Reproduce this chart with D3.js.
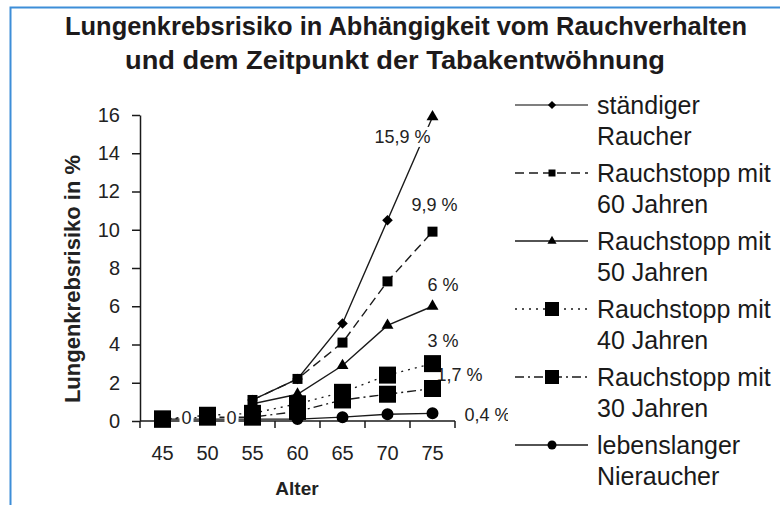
<!DOCTYPE html>
<html>
<head>
<meta charset="utf-8">
<script src="https://cdn.jsdelivr.net/npm/d3@7"></script>
<style>
  body { margin: 0; background: #fff; }
  svg { display: block; font-family: "Liberation Sans", Arial, sans-serif; }
</style>
</head>
<body>
<div id="chart"></div>
<script>
// Daten
const ages = [45, 50, 55, 60, 65, 70, 75];
const raucher = [null, null, 1.1, 2.2, 5.1, 10.5, 15.9];
const stopp60 = [null, null, 1.1, 2.2, 4.1, 7.3, 9.9];
const stopp50 = [null, null, 0.9, 1.4, 2.9, 5.0, 6.0];
const stopp40 = [0.1, 0.3, 0.4, 0.9, 1.5, 2.4, 3.0];
const stopp30 = [0.1, 0.2, 0.2, 0.5, 1.1, 1.4, 1.7];
const nie = [0.1, 0.1, 0.1, 0.1, 0.2, 0.35, 0.4];
const yTicks = [0, 2, 4, 6, 8, 10, 12, 14, 16];
const legendLabels = [
    ["ständiger", "Raucher"],
    ["Rauchstopp mit", "60 Jahren"],
    ["Rauchstopp mit", "50 Jahren"],
    ["Rauchstopp mit", "40 Jahren"],
    ["Rauchstopp mit", "30 Jahren"],
    ["lebenslanger", "Nieraucher"]
];
// Beschriftungen je Reihe: [Index der Altersgruppe, Text]
const pointLabels = [
    [[6, "15,9 %"]],
    [[6, "9,9 %"]],
    [[6, "6 %"]],
    [[6, "3 %"]],
    [[6, "1,7 %"]],
    [[0, "0"], [1, "0"], [6, "0,4 %"]]
];

const seriesValues = [raucher, stopp60, stopp50, stopp40, stopp30, nie];

// Darstellung je Reihe
const styles = [
    { dash: null, sym: "diamond", size: 56, lsize: 34, lab: [[-58, 26]] },
    { dash: "9,5", sym: "square", size: 100, lsize: 49, lab: [[-21, -21]] },
    { dash: null, sym: "triangle", size: 62, lsize: 36, lab: [[-5, -15]] },
    { dash: "2,5", sym: "square", size: 289, lsize: 196, lab: [[-5, -17]] },
    { dash: "9,4,2,4", sym: "square", size: 289, lsize: 196, lab: [[4, -7]] },
    { dash: null, sym: "circle", size: 113, lsize: 64, lab: [[19, 5], [19, 5], [32, 8]] }
];
// 75er-Punkt der Raucher-Reihe ist im Original ein Dreieck
const symbolOverride = { "0-6": "triangle" };

const W = 780, H = 505;
const ink = "#1a1a1a";

const svg = d3.select("#chart").append("svg")
    .attr("width", W)
    .attr("height", H);

// blauer Rahmen
svg.append("path")
    .attr("d", "M10.5," + H + "V7.5H" + W)
    .attr("fill", "none")
    .attr("stroke", "#3d8ed8")
    .attr("stroke-width", 2);

// Titel
const title = svg.append("g")
    .attr("font-family", "'Liberation Sans Narrow', 'Liberation Sans', Arial, sans-serif")
    .attr("font-weight", "bold")
    .attr("font-size", 25)
    .attr("fill", "#1d1a1b");
title.append("text").attr("x", 65).attr("y", 35)
    .attr("textLength", 682).attr("lengthAdjust", "spacingAndGlyphs")
    .text("Lungenkrebsrisiko in Abhängigkeit vom Rauchverhalten");
title.append("text").attr("x", 125).attr("y", 69)
    .attr("textLength", 540).attr("lengthAdjust", "spacingAndGlyphs")
    .text("und dem Zeitpunkt der Tabakentwöhnung");

const x = d3.scaleBand().domain(ages).range([140, 455]).padding(0);
const y = d3.scaleLinear().domain([0, 16]).range([421, 115]);
const cx = a => x(a) + x.bandwidth() / 2;

// y-Achse
const yAxis = svg.append("g")
    .attr("transform", "translate(140,0)")
    .call(d3.axisLeft(y).tickValues(yTicks).tickSize(8).tickPadding(12).tickSizeOuter(0));
yAxis.select(".domain").attr("stroke", ink).attr("stroke-width", 1.5);
yAxis.selectAll(".tick line").attr("stroke", ink).attr("stroke-width", 1.5);
yAxis.selectAll(".tick text")
    .attr("font-size", 20)
    .attr("font-family", "'Liberation Sans', Arial, sans-serif")
    .attr("fill", "#222");

// x-Achse: Beschriftung mittig, Striche an den Kategoriegrenzen
const xAxis = svg.append("g")
    .attr("transform", "translate(0,421)")
    .call(d3.axisBottom(x).tickSize(0).tickPadding(25));
xAxis.select(".domain").remove();
xAxis.selectAll(".tick text")
    .attr("font-size", 20)
    .attr("font-family", "'Liberation Sans', Arial, sans-serif")
    .attr("fill", "#222");
svg.append("line")
    .attr("x1", 140).attr("x2", 455)
    .attr("y1", y(0)).attr("y2", y(0))
    .attr("stroke", ink).attr("stroke-width", 1.5);
const bounds = ages.map(a => x(a)).concat([x.range()[1]]);
svg.append("g").selectAll("line")
    .data(bounds)
    .join("line")
    .attr("x1", d => d).attr("x2", d => d)
    .attr("y1", y(0)).attr("y2", y(0) + 7)
    .attr("stroke", ink).attr("stroke-width", 1.5);

// Achsentitel
svg.append("text")
    .attr("transform", "translate(80,279) rotate(-90)")
    .attr("text-anchor", "middle")
    .attr("font-weight", "bold")
    .attr("font-size", 22)
    .attr("fill", "#222")
    .text("Lungenkrebsrisiko in %");
svg.append("text")
    .attr("x", 297).attr("y", 495)
    .attr("text-anchor", "middle")
    .attr("font-weight", "bold")
    .attr("font-size", 19)
    .attr("fill", "#222")
    .text("Alter");

function symbolPath(name, size) {
    if (name === "diamond") return d3.symbol(d3.symbolSquare, size)();
    const type = { square: d3.symbolSquare, triangle: d3.symbolTriangle, circle: d3.symbolCircle }[name];
    return d3.symbol(type, size)();
}
function symbolTransform(name, px, py) {
    return "translate(" + px + "," + py + ")" + (name === "diamond" ? " rotate(45)" : "");
}

const line = d3.line()
    .defined(d => d.v != null)
    .x(d => cx(d.a))
    .y(d => y(d.v));

const plot = svg.append("g");
const lineG = plot.append("g");
const labelG = plot.append("g");
const markG = plot.append("g");

svg.append("clipPath").attr("id", "labclip")
    .append("rect").attr("x", 0).attr("y", 0).attr("width", 508).attr("height", H);
labelG.attr("clip-path", "url(#labclip)");

seriesValues.forEach((vals, si) => {
    const st = styles[si];
    const pts = ages.map((a, i) => ({ a: a, v: vals[i], i: i }));
    lineG.append("path")
        .datum(pts)
        .attr("d", line)
        .attr("fill", "none")
        .attr("stroke", ink)
        .attr("stroke-width", 1.4)
        .attr("stroke-dasharray", st.dash);

    pointLabels[si].forEach((pl, k) => {
        const idx = pl[0];
        const off = st.lab[k];
        const g = labelG.append("g");
        const bg = g.append("rect").attr("fill", "#fff");
        const t = g.append("text")
            .attr("x", cx(ages[idx]) + off[0])
            .attr("y", y(vals[idx]) + off[1])
            .attr("font-size", 18)
            .attr("fill", "#222")
            .text(pl[1]);
        const bb = t.node().getBBox();
        bg.attr("x", bb.x - 2).attr("y", bb.y)
            .attr("width", bb.width + 4).attr("height", bb.height);
    });

    markG.append("g").selectAll("path")
        .data(pts.filter(d => d.v != null))
        .join("path")
        .attr("d", d => {
            const nm = symbolOverride[si + "-" + d.i] || st.sym;
            return symbolPath(nm, nm === st.sym ? st.size : 62);
        })
        .attr("transform", d => symbolTransform(symbolOverride[si + "-" + d.i] || st.sym, cx(d.a), y(d.v)))
        .attr("fill", "#000");
});

// Legende
const legend = svg.append("g");
legendLabels.forEach((lab, i) => {
    const st = styles[i];
    const ly = 105 + i * 68;
    legend.append("line")
        .attr("x1", 515).attr("x2", 588)
        .attr("y1", ly).attr("y2", ly)
        .attr("stroke", i === 0 ? "#555" : ink)
        .attr("stroke-width", 1.5)
        .attr("stroke-dasharray", st.dash);
    legend.append("path")
        .attr("d", symbolPath(st.sym, st.lsize))
        .attr("transform", symbolTransform(st.sym, 552, ly))
        .attr("fill", "#000");
    lab.forEach((t, k) => {
        legend.append("text")
            .attr("x", 597)
            .attr("y", ly + 9 + k * 31)
            .attr("font-size", 25)
            .attr("fill", "#1a1a1a")
            .text(t);
    });
});
</script>
</body>
</html>
